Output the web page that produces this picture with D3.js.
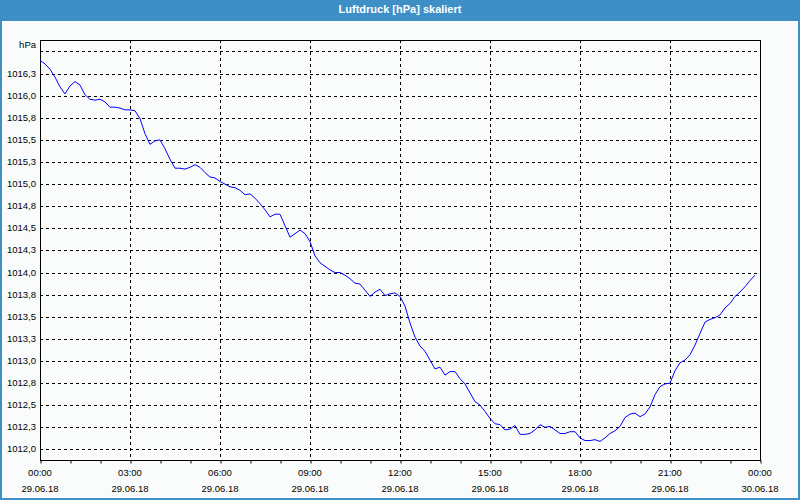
<!DOCTYPE html>
<html>
<head>
<meta charset="utf-8">
<script src="https://cdn.jsdelivr.net/npm/d3@7"></script>
<style>
  html, body { margin: 0; padding: 0; background: #fff; }
  svg { display: block; }
  text { font-family: "Liberation Sans", Arial, sans-serif; }
</style>
</head>
<body>
<svg id="chart" width="800" height="500"></svg>
<script>
// ---- data ----
const chartTitle = "Luftdruck [hPa] skaliert";
const yUnit = "hPa";
const startTime = "2018-06-29T00:00:00";
const stepMinutes = 10;
const pressure = [
  1016.40, 1016.36, 1016.30, 1016.21, 1016.10, 1016.02, 1016.11, 1016.16, 1016.12, 1016.01,
  1015.96, 1015.95, 1015.96, 1015.93, 1015.87, 1015.87, 1015.86, 1015.84, 1015.84, 1015.83,
  1015.74, 1015.57, 1015.45, 1015.49, 1015.50, 1015.40, 1015.28, 1015.18, 1015.18, 1015.17,
  1015.19, 1015.22, 1015.19, 1015.13, 1015.08, 1015.07, 1015.03, 1015.00, 1014.97, 1014.96,
  1014.93, 1014.88, 1014.89, 1014.84, 1014.78, 1014.71, 1014.63, 1014.66, 1014.66, 1014.53,
  1014.40, 1014.44, 1014.48, 1014.44, 1014.35, 1014.19, 1014.11, 1014.07, 1014.03, 1014.00,
  1014.00, 1013.97, 1013.93, 1013.88, 1013.87, 1013.80, 1013.73, 1013.78, 1013.81, 1013.74,
  1013.76, 1013.77, 1013.73, 1013.62, 1013.43, 1013.27, 1013.17, 1013.11, 1013.01, 1012.91,
  1012.93, 1012.84, 1012.88, 1012.88, 1012.80, 1012.74, 1012.64, 1012.54, 1012.50, 1012.43,
  1012.35, 1012.29, 1012.28, 1012.22, 1012.23, 1012.27, 1012.17, 1012.17, 1012.18, 1012.22,
  1012.28, 1012.25, 1012.26, 1012.22, 1012.18, 1012.18, 1012.20, 1012.20, 1012.13, 1012.10,
  1012.10, 1012.11, 1012.09, 1012.13, 1012.18, 1012.21, 1012.26, 1012.36, 1012.40, 1012.41,
  1012.37, 1012.40, 1012.48, 1012.62, 1012.71, 1012.74, 1012.75, 1012.89, 1012.98, 1013.01,
  1013.07, 1013.18, 1013.31, 1013.44, 1013.47, 1013.49, 1013.52, 1013.60, 1013.65, 1013.73,
  1013.78, 1013.84, 1013.91, 1013.97
];
const yTickValues = [1012.0, 1012.25, 1012.5, 1012.75, 1013.0, 1013.25, 1013.5, 1013.75,
  1014.0, 1014.25, 1014.5, 1014.75, 1015.0, 1015.25, 1015.5, 1015.75, 1016.0, 1016.25, 1016.5];
const yTickLabels = ["1012,0", "1012,3", "1012,5", "1012,8", "1013,0", "1013,3", "1013,5", "1013,8",
  "1014,0", "1014,3", "1014,5", "1014,8", "1015,0", "1015,3", "1015,5", "1015,8", "1016,0", "1016,3", ""];
const yDomain = [1011.88, 1016.63];
const xTickHours = [0, 3, 6, 9, 12, 15, 18, 21, 24];
const xTickTimes = ["00:00", "03:00", "06:00", "09:00", "12:00", "15:00", "18:00", "21:00", "00:00"];
const xTickDates = ["29.06.18", "29.06.18", "29.06.18", "29.06.18", "29.06.18", "29.06.18", "29.06.18", "29.06.18", "30.06.18"];

// ---- layout ----
const W = 800, H = 500;
const blue = "#3d8fc6";
const plot = { left: 40, right: 760, top: 40, bottom: 460 };

const svg = d3.select("#chart");
svg.append("rect").attr("x", 0).attr("y", 0).attr("width", W).attr("height", H).attr("fill", "#fafcfb");
svg.append("rect").attr("x", 0).attr("y", 0).attr("width", W).attr("height", 21).attr("fill", blue);
svg.append("rect").attr("x", 1).attr("y", 1).attr("width", W - 2).attr("height", H - 2)
  .attr("fill", "none").attr("stroke", blue).attr("stroke-width", 2);
svg.append("text").attr("x", W / 2).attr("y", 10.5).attr("text-anchor", "middle")
  .attr("dominant-baseline", "middle").attr("fill", "#fff").attr("font-weight", "bold")
  .attr("font-size", "11px").text(chartTitle);

const t0 = new Date(startTime);
const x = d3.scaleLinear().domain([0, 24]).range([plot.left, plot.right]);
const y = d3.scaleLinear().domain(yDomain).range([plot.bottom, plot.top]);

const data = pressure.map((v, i) => ({ h: i * stepMinutes / 60, v }));

// grid
const grid = svg.append("g").attr("stroke", "#000").attr("stroke-width", 1).attr("stroke-dasharray", "3,3");
grid.selectAll("line.h").data(yTickValues).enter().append("line")
  .attr("x1", plot.left).attr("x2", plot.right)
  .attr("y1", d => Math.round(y(d)) + 0.5).attr("y2", d => Math.round(y(d)) + 0.5);
grid.selectAll("line.v").data(xTickHours.slice(1, -1)).enter().append("line")
  .attr("y1", plot.top).attr("y2", plot.bottom)
  .attr("x1", d => Math.round(x(d)) + 0.5).attr("x2", d => Math.round(x(d)) + 0.5);

// y labels
const yl = svg.append("g").attr("font-size", "9.5px").attr("fill", "#000").attr("text-anchor", "end");
yl.selectAll("text").data(yTickValues).enter().append("text")
  .attr("x", 36).attr("y", d => Math.round(y(d)) + 0.5)
  .attr("dominant-baseline", "middle")
  .text((d, i) => yTickLabels[i]);
svg.append("text").attr("x", 36).attr("y", 45).attr("text-anchor", "end").attr("dominant-baseline", "middle")
  .attr("font-size", "9.5px").text(yUnit);

// x axis with hourly minor ticks
const xAxis = d3.axisBottom(x).tickValues(d3.range(0, 25, 1)).tickSize(3).tickFormat("");
const gx = svg.append("g").attr("transform", `translate(0.5,${plot.bottom + 0.5})`).call(xAxis);
gx.select(".domain").remove();
gx.selectAll(".tick line").attr("stroke", "#000");

const xl = svg.append("g").attr("font-size", "9.5px").attr("fill", "#000").attr("text-anchor", "middle");
xl.selectAll("text.t").data(xTickHours).enter().append("text")
  .attr("x", d => x(d)).attr("y", 473.5).attr("dominant-baseline", "middle")
  .text((d, i) => xTickTimes[i]);
xl.selectAll("text.d").data(xTickHours).enter().append("text")
  .attr("x", d => x(d)).attr("y", 489).attr("dominant-baseline", "middle")
  .text((d, i) => xTickDates[i]);

// frame
svg.append("rect").attr("x", plot.left + 0.5).attr("y", plot.top + 0.5)
  .attr("width", plot.right - plot.left).attr("height", plot.bottom - plot.top)
  .attr("fill", "none").attr("stroke", "#000").attr("stroke-width", 1);

// line
const line = d3.line().x(d => x(d.h)).y(d => y(d.v));
svg.append("path").datum(data).attr("d", line).attr("fill", "none")
  .attr("stroke", "#0000ff").attr("stroke-width", 1);
</script>
</body>
</html>
